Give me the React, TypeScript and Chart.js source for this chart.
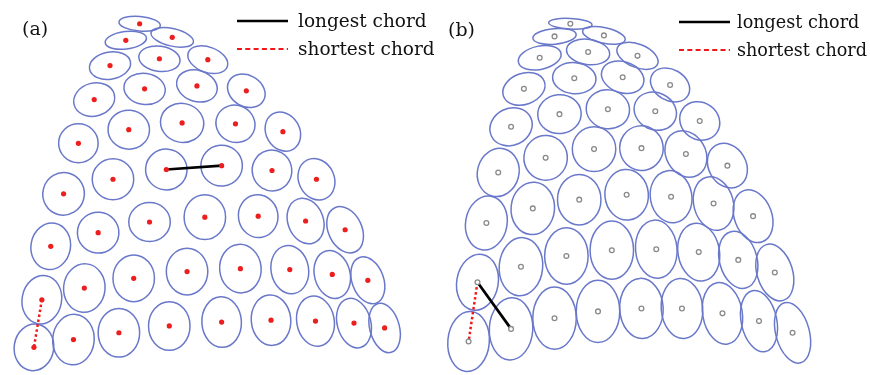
import React, { useEffect, useRef } from "react";
import { Chart, registerables } from "chart.js";

Chart.register(...registerables);

const W = 870;
const H = 375;

// Panel (a): ellipse centres, semi-axes and tilt (deg)
const aCx = [136, 122, 169, 106, 156, 205, 90, 141, 194, 244, 74, 125, 179, 233, 281, 59, 109, 163, 219, 270, 315, 46, 94, 146, 202, 256, 304, 344, 37, 80, 130, 184, 238, 288, 331, 367, 29, 69, 115, 166, 219, 269, 314, 353, 384];
const aCy = [19, 36, 33, 62, 55, 56, 97, 86, 83, 88, 142, 128, 121, 122, 130, 194, 179, 169, 165, 170, 179, 248, 234, 223, 218, 217, 222, 231, 303, 291, 281, 274, 271, 272, 277, 283, 352, 344, 337, 330, 326, 324, 325, 327, 332];
const aRx = [21, 21, 22, 21, 21, 21, 21, 21, 21, 20, 20, 21, 22, 20, 17, 21, 21, 21, 21, 20, 18, 20, 21, 21, 21, 20, 18, 17, 20, 21, 21, 21, 21, 19, 18, 16, 20, 21, 21, 21, 20, 20, 19, 17, 15];
const aRy = [7.5, 9, 9, 14, 13, 13, 17, 16, 16, 16, 20, 20, 20, 19, 21, 22, 21, 21, 21, 21, 22, 24, 21, 20, 23, 22, 24, 25, 25, 25, 24, 24, 25, 25, 25, 25, 24, 26, 25, 25, 26, 26, 26, 26, 26];
const aRot = [5, -7, 13, -10, 8, 20, -15, 8, 18, 30, 0, 5, 12, 25, -30, 15, 0, 5, -5, -15, -25, 10, 5, 0, 0, -10, -20, -25, 10, 5, 0, 0, -5, -10, -15, -20, 8, 5, 0, 0, -3, -5, -10, -15, -15];

// Panel (b)
const bCx = [572, 556, 606, 541, 590, 640, 525, 576, 625, 673, 512, 561, 610, 658, 703, 499, 547, 596, 644, 689, 731, 487, 534, 581, 629, 674, 717, 757, 478, 522, 568, 614, 659, 702, 742, 779, 469, 512, 556, 600, 644, 685, 726, 763, 797];
const bCy = [19, 32, 31, 54, 48, 52, 86, 75, 74, 82, 125, 112, 107, 109, 119, 172, 157, 148, 147, 153, 165, 224, 209, 200, 195, 197, 204, 217, 285, 269, 258, 252, 251, 254, 262, 275, 346, 333, 322, 315, 312, 312, 317, 325, 337];
const bRx = [22, 22, 22, 22, 22, 22, 22, 22, 22, 21, 22, 22, 22, 22, 21, 21, 22, 22, 22, 20, 19, 21, 22, 22, 22, 21, 20, 19, 21, 22, 22, 22, 21, 21, 19, 18, 21, 22, 22, 22, 22, 21, 20, 18, 17];
const bRy = [5.5, 8, 8, 12, 13, 12, 16, 16, 16, 16, 19, 20, 20, 19, 19, 25, 23, 23, 23, 25, 24, 28, 27, 26, 26, 27, 28, 28, 29, 30, 29, 30, 30, 30, 30, 30, 31, 32, 32, 32, 31, 31, 32, 32, 32];
const bRot = [3, -5, 12, -12, 8, 22, -20, 5, 18, 30, -25, -5, 10, 25, 35, 15, 5, 0, -10, -30, -30, 10, 5, 0, -5, -10, -15, -20, 10, 5, 0, 0, -5, -10, -15, -17, 5, 3, 0, 0, -3, -5, -10, -12, -15];

// Chords: [x1, x2], [y1, y2]
const aLongX = [163, 219];
const aLongY = [169, 165];
const aShortX = [37, 29];
const aShortY = [303, 352];
const bLongX = [478, 512];
const bLongY = [285, 333];
const bShortX = [478, 469];
const bShortY = [285, 346];

const legendLabels = ["longest chord", "shortest chord"];
const panelLabels = ["(a)", "(b)"];

const ELLIPSE_COLOR = "#6a78ca";
const SERIF = "'DejaVu Serif', 'Liberation Serif', serif";

const toPts = (xs: number[], ys: number[]) => xs.map((v, i) => ({ x: v, y: ys[i] }));

const ellipsePlugin = {
  id: "ellipses",
  beforeDatasetsDraw(chart: any) {
    const { ctx } = chart;
    const xs = chart.scales.x;
    const ys = chart.scales.y;
    const drawSet = (cx: number[], cy: number[], rx: number[], ry: number[], rot: number[]) => {
      for (let i = 0; i < cx.length; i++) {
        const px = xs.getPixelForValue(cx[i]);
        const py = ys.getPixelForValue(cy[i]);
        const prx = Math.abs(xs.getPixelForValue(cx[i] + rx[i]) - px);
        const pry = Math.abs(ys.getPixelForValue(cy[i] + ry[i]) - py);
        ctx.beginPath();
        ctx.ellipse(px, py, prx, pry, (rot[i] * Math.PI) / 180, 0, Math.PI * 2);
        ctx.stroke();
      }
    };
    ctx.save();
    ctx.strokeStyle = ELLIPSE_COLOR;
    ctx.lineWidth = 1.5;
    drawSet(aCx, aCy, aRx, aRy, aRot);
    drawSet(bCx, bCy, bRx, bRy, bRot);
    ctx.restore();
  },
};

const legendPlugin = {
  id: "customLegend",
  afterDraw(chart: any) {
    const { ctx } = chart;
    ctx.save();
    const drawLegend = (lx: number, ly: number, tx: number, size: number) => {
      ctx.setLineDash([]);
      ctx.strokeStyle = "#000";
      ctx.lineWidth = 2.5;
      ctx.beginPath();
      ctx.moveTo(lx, ly);
      ctx.lineTo(lx + 51, ly);
      ctx.stroke();
      ctx.strokeStyle = "#f01818";
      ctx.lineWidth = 2;
      ctx.setLineDash([5, 3.3]);
      ctx.beginPath();
      ctx.moveTo(lx, ly + 28);
      ctx.lineTo(lx + 51, ly + 28);
      ctx.stroke();
      ctx.setLineDash([]);
      ctx.fillStyle = "#111";
      ctx.font = `${size}px ${SERIF}`;
      ctx.textAlign = "left";
      ctx.textBaseline = "alphabetic";
      ctx.fillText(legendLabels[0], tx, ly + 6);
      ctx.fillText(legendLabels[1], tx, ly + 34);
    };
    drawLegend(237, 21, 298, 18.5);
    drawLegend(679, 22, 737, 17.6);
    ctx.fillStyle = "#111";
    ctx.font = `19px ${SERIF}`;
    ctx.fillText(panelLabels[0], 22, 35);
    ctx.fillText(panelLabels[1], 448, 36);
    ctx.restore();
  },
};

export default function App() {
  const ref = useRef<HTMLCanvasElement | null>(null);
  useEffect(() => {
    if (!ref.current) return;
    const chart = new Chart(ref.current, {
      type: "scatter",
      data: {
        datasets: [
          {
            label: "a centres",
            data: toPts(aCx, aCy),
            pointRadius: 2.6,
            pointBackgroundColor: "#ec1e1e",
            pointBorderWidth: 0,
            order: 0,
          },
          {
            label: "b centres",
            data: toPts(bCx, bCy),
            pointRadius: 2.4,
            pointBackgroundColor: "#ffffff",
            pointBorderColor: "#8a8a8a",
            pointBorderWidth: 1.3,
            order: 0,
          },
          {
            label: "a longest",
            data: toPts(aLongX, aLongY),
            showLine: true,
            borderColor: "#000",
            borderWidth: 2.7,
            pointRadius: 0,
            order: 1,
          },
          {
            label: "a shortest",
            data: toPts(aShortX, aShortY),
            showLine: true,
            borderColor: "#f01818",
            borderWidth: 2.5,
            borderDash: [2.5, 2.5],
            pointRadius: 0,
            order: 1,
          },
          {
            label: "b longest",
            data: toPts(bLongX, bLongY),
            showLine: true,
            borderColor: "#000",
            borderWidth: 2.7,
            pointRadius: 0,
            order: 1,
          },
          {
            label: "b shortest",
            data: toPts(bShortX, bShortY),
            showLine: true,
            borderColor: "#f01818",
            borderWidth: 2.5,
            borderDash: [2.5, 2.5],
            pointRadius: 0,
            order: 1,
          },
        ],
      },
      options: {
        responsive: false,
        animation: false,
        events: [],
        layout: { padding: 0 },
        plugins: {
          legend: { display: false },
          tooltip: { enabled: false },
          title: { display: false },
        },
        scales: {
          x: { type: "linear", min: 0, max: W, display: false },
          y: { type: "linear", min: 0, max: H, reverse: true, display: false },
        },
      },
      plugins: [ellipsePlugin, legendPlugin],
    });
    return () => chart.destroy();
  }, []);
  return (
    <div style={{ position: "absolute", left: 0, top: 0, width: W, height: H, background: "#fff" }}>
      <canvas ref={ref} width={W} height={H} style={{ display: "block" }} />
    </div>
  );
}
